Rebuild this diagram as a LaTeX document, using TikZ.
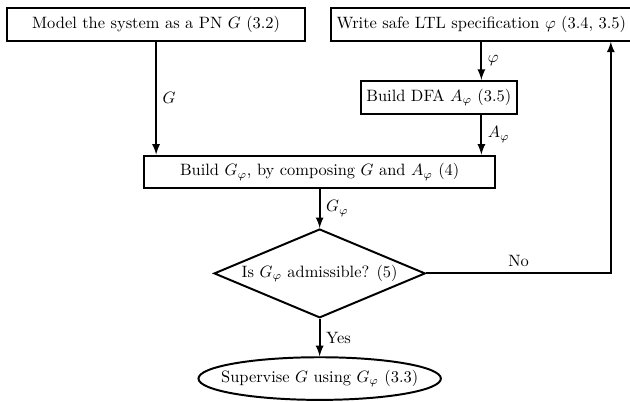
\documentclass[tikz,border=0pt]{standalone}
\usepackage{xcolor}
\usepackage{tikz}
\usetikzlibrary{shapes.geometric, positioning}

\begin{document}
\begin{tikzpicture}[>=latex, very thick, node distance=2cm, on grid, auto]
        \tikzset{block/.style={draw, rectangle, minimum height=0.7cm},
                 decision/.style={draw, diamond, aspect=2.35, minimum width=4.52cm, minimum height=1.9cm, inner sep=1pt},
                 terminal/.style={draw, ellipse, inner xsep=-7.8pt, inner ysep=4pt}}
        \useasboundingbox (-3.34,0.52) rectangle (10.14,-8.08);

        \node[block, minimum width=6.36cm] (model) {Model the system as a PN $G$ (3.2)};
        \node[block, minimum width=6.2cm] (write) [right=6.96 of model] {Write safe LTL specification $\varphi$ (3.4, 3.5)};
        \node[block, minimum width=2.38cm] (dfa) [below=1.56 of write, xshift=-0.91cm] {Build DFA $A_\varphi$ (3.5)};
        \node[block, minimum width=7.52cm] (compose) [below=3.16 of model, xshift=3.5cm] {Build $G_\varphi$, by composing $G$ and $A_\varphi$ (4)};
        \node[decision] (check) [below=2.17 of compose] {Is $G_\varphi$ admissible? (5)};
        \node[terminal] (supervise) [below=2.25 of check] {Supervise $G$ using $G_\varphi$ (3.3)};
        \coordinate[right=6.23 of check] (back);

        \path[->]
        (model) edge node {$G$} (model |- compose.north)
        (write) edge node {$\varphi$} (write |- dfa.north)
        (dfa.south -| write) edge node {$A_\varphi$} (compose.north -| write)
        (compose) edge node {$G_\varphi$} (check)
        (check) edge node {Yes} (supervise);

        \draw[->] (check.east) -- node {No} (back) -- (back |- write.south);
    \end{tikzpicture}
\end{document}
